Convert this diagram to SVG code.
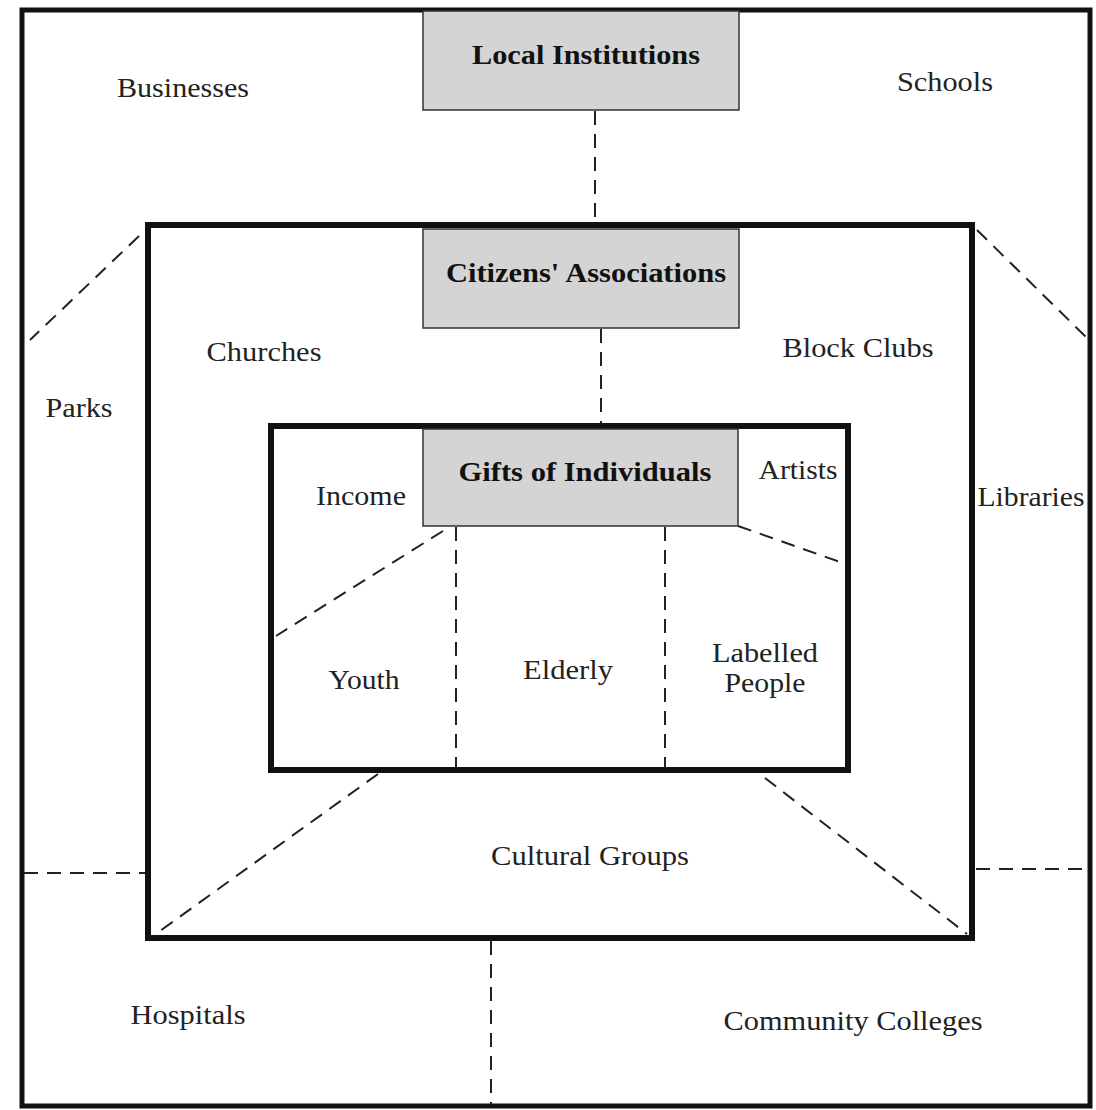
<svg xmlns="http://www.w3.org/2000/svg" width="1096" height="1110" viewBox="0 0 1096 1110">
<style>
.frame{fill:none;stroke:#111;stroke-width:5}
.inner{fill:none;stroke:#111;stroke-width:6}
.core{fill:#d4d4d4;stroke:#333;stroke-width:1.5}
.dash{fill:none;stroke:#222;stroke-width:2;stroke-dasharray:14 9}
text{font-family:"Liberation Serif","Times New Roman",serif;font-size:28px;fill:#222;text-anchor:middle}
.b{font-weight:bold;font-size:28px;fill:#111}
</style>
<rect width="1096" height="1110" fill="#fff"/>
<g id="outer-region">
<rect class="frame" x="22" y="10" width="1068" height="1096"/>
</g>
<g id="middle-region">
<rect class="inner" x="148" y="225" width="824" height="713"/>
</g>
<g id="inner-region">
<rect class="inner" x="271" y="426" width="577" height="344"/>
</g>
<g id="connectors">
<line class="dash" x1="595" y1="111" x2="595" y2="222"/>
<line class="dash" x1="601" y1="329" x2="601" y2="423"/>
<line class="dash" x1="443" y1="531" x2="276" y2="636"/>
<line class="dash" x1="456" y1="527" x2="456" y2="767"/>
<line class="dash" x1="665" y1="527" x2="665" y2="767"/>
<line class="dash" x1="738" y1="526" x2="843" y2="563"/>
<line class="dash" x1="378" y1="774" x2="153" y2="936"/>
<line class="dash" x1="765" y1="778" x2="967" y2="934"/>
<line class="dash" x1="139" y1="236" x2="30" y2="340"/>
<line class="dash" x1="977" y1="230" x2="1086" y2="337"/>
<line class="dash" x1="24" y1="873" x2="145" y2="873"/>
<line class="dash" x1="976" y1="869" x2="1088" y2="869"/>
<line class="dash" x1="491" y1="941" x2="491" y2="1104"/>
</g>
<g id="local-institutions">
<rect class="core" x="423" y="11" width="316" height="99"/>
<text class="b" x="586" y="64" textLength="228" lengthAdjust="spacingAndGlyphs">Local Institutions</text>
</g>
<g id="citizens-associations">
<rect class="core" x="423" y="229" width="316" height="99"/>
<text class="b" x="586" y="282" textLength="280" lengthAdjust="spacingAndGlyphs">Citizens' Associations</text>
</g>
<g id="gifts-of-individuals">
<rect class="core" x="423" y="429" width="315" height="97"/>
<text class="b" x="585" y="481" textLength="253" lengthAdjust="spacingAndGlyphs">Gifts of Individuals</text>
</g>
<g id="labels">
<text x="183" y="97" textLength="132" lengthAdjust="spacingAndGlyphs">Businesses</text>
<text x="945" y="91" textLength="96" lengthAdjust="spacingAndGlyphs">Schools</text>
<text x="264" y="361" textLength="115" lengthAdjust="spacingAndGlyphs">Churches</text>
<text x="858" y="357" textLength="151" lengthAdjust="spacingAndGlyphs">Block Clubs</text>
<text x="79" y="417" textLength="67" lengthAdjust="spacingAndGlyphs">Parks</text>
<text x="361" y="505" textLength="90" lengthAdjust="spacingAndGlyphs">Income</text>
<text x="798" y="479" textLength="79" lengthAdjust="spacingAndGlyphs">Artists</text>
<text x="1031" y="506" textLength="107" lengthAdjust="spacingAndGlyphs">Libraries</text>
<text x="364" y="689" textLength="71" lengthAdjust="spacingAndGlyphs">Youth</text>
<text x="568" y="679" textLength="90" lengthAdjust="spacingAndGlyphs">Elderly</text>
<text x="765" y="662" textLength="106" lengthAdjust="spacingAndGlyphs">Labelled</text>
<text x="765" y="692" textLength="81" lengthAdjust="spacingAndGlyphs">People</text>
<text x="590" y="865" textLength="198" lengthAdjust="spacingAndGlyphs">Cultural Groups</text>
<text x="188" y="1024" textLength="115" lengthAdjust="spacingAndGlyphs">Hospitals</text>
<text x="853" y="1030" textLength="259" lengthAdjust="spacingAndGlyphs">Community Colleges</text>
</g>
</svg>
